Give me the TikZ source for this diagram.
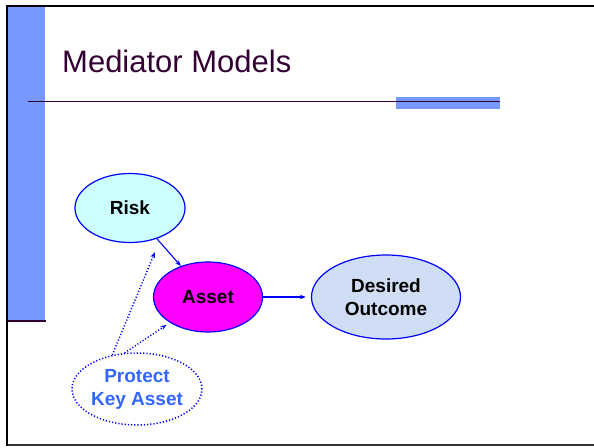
\documentclass[tikz,border=0pt]{standalone}
\usepackage{fontspec}
\setmainfont{Liberation Sans}
\usetikzlibrary{shapes.geometric,arrows.meta}
\definecolor{slideblue}{RGB}{119,153,255}
\definecolor{titleplum}{RGB}{51,0,51}
\definecolor{riskcyan}{RGB}{204,255,255}
\definecolor{assetpink}{RGB}{255,0,255}
\definecolor{outcomeblue}{RGB}{208,222,245}
\definecolor{protectblue}{RGB}{51,102,255}
\tikzset{
  bubble/.style={ellipse, draw=blue, line width=1.2pt, inner sep=0pt, align=center,
    font=\fontsize{19}{23}\selectfont\bfseries},
  link/.style={-{Stealth[length=6pt,width=4.5pt]}, blue, line width=1.1pt},
  hint/.style={link, dotted, line width=1.5pt},
}
\begin{document}
\begin{tikzpicture}[x=1pt, y=-1pt]
    \useasboundingbox (0,0) rectangle (594,447);
    \fill[slideblue] (8,7) rectangle (45,320);
    \draw[titleplum, line width=1.5pt] (6,321) -- (46,321);
    \draw[black!80, line width=1.5pt] (7,445) -- (594,445);
    \draw[black, line width=2pt] (7,446) -- (7,6) -- (594,6);
    \fill[slideblue] (396,97) rectangle (500,109);
    \draw[titleplum, line width=1pt] (28,101) -- (500,101);
    \node[anchor=base west, inner sep=0pt, text=titleplum, font=\fontsize{31}{37}\selectfont] (title) at (62,72) {Mediator Models};
    \node[bubble, fill=riskcyan, minimum width=110pt, minimum height=69pt] (risk) at (130,208) {Risk};
    \node[bubble, fill=assetpink, minimum width=109pt, minimum height=70pt] (asset) at (208,297) {Asset};
    \node[bubble, fill=outcomeblue, minimum width=149pt, minimum height=84pt] (outcome) at (386,297) {Desired\\Outcome};
    \node[bubble, dotted, line width=1.5pt, text=protectblue, minimum width=124pt, minimum height=72pt] (protect) at (137,389) {Protect\\Key Asset};
    \coordinate (gap) at (155,252);
    \draw[link] (risk) -- (asset);
    \draw[link, shorten >=5pt] (asset) -- (outcome);
    \draw[hint] (protect.126) -- (gap);
    \draw[hint, shorten >=4pt] (protect.109) -- (asset);
\end{tikzpicture}
\end{document}
